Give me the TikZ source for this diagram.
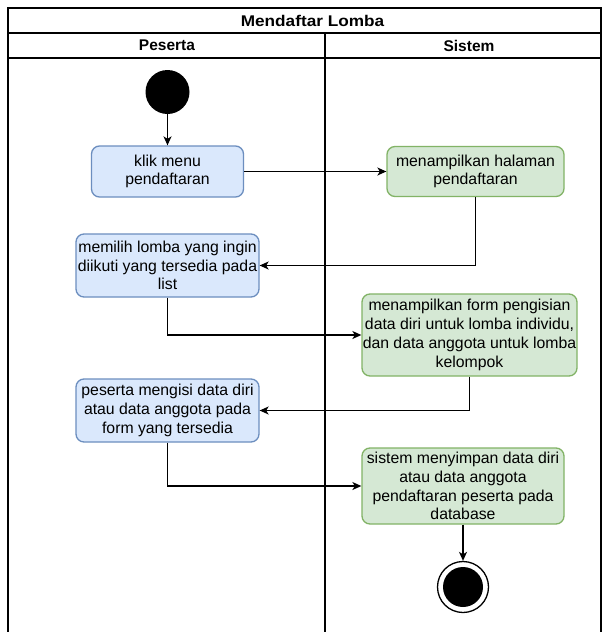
\documentclass[tikz,border=0pt]{standalone}
\usepackage{fontspec}
\setmainfont{Liberation Sans}
\newfontfamily\titlefont[FakeStretch=1.11]{Liberation Sans}
\usetikzlibrary{arrows.meta}
\definecolor{bluefill}{HTML}{DAE8FC}
\definecolor{blueline}{HTML}{6C8EBF}
\definecolor{greenfill}{HTML}{D5E8D4}
\definecolor{greenline}{HTML}{82B366}
\begin{document}
\begin{tikzpicture}[x=1pt,y=-1pt,
  every node/.style={font=\fontsize{15.8}{18.8}\selectfont},
  act/.style={rectangle, rounded corners=8pt, line width=1.3pt, align=center, inner sep=0pt},
  userbox/.style={act, fill=bluefill, draw=blueline},
  sysbox/.style={act, fill=greenfill, draw=greenline},
  flow/.style={line width=1.3pt, -{Stealth[length=9pt,width=8pt,inset=2.5pt]}},
  lane/.style={line width=1.3pt},
  header/.style={font=\fontsize{15.5}{18.6}\selectfont\bfseries}]
\useasboundingbox (0,0) rectangle (603,632);
\fill[white] (0,0) rectangle (603,632);

% swimlane frame
\draw[lane] (8,632) -- (8,8) -- (601,8) -- (601,632);
\draw[lane] (8,33) -- (601,33);
\draw[lane] (8,58) -- (601,58);
\draw[lane] (325,33) -- (325,632);
\node[font=\fontsize{15.5}{18.6}\titlefont\bfseries] (title) at (312.5,20.5) {Mendaftar Lomba};
\node[header] (lane1) at (167,45.5) {Peserta};
\node[header] (lane2) at (469,45.5) {Sistem};

% start and end
\node[circle, fill=black, minimum size=44pt, inner sep=0pt] (start) at (167.5,92) {};
\node[circle, draw=black, fill=white, line width=1.3pt, minimum size=51pt, inner sep=0pt] (end) at (463,587) {};
\node[circle, fill=black, minimum size=40pt, inner sep=0pt] (endin) at (463,587) {};

% actions
\node[userbox, minimum width=152pt, minimum height=51pt] (b1) at (167.5,171.5) {klik menu\\pendaftaran};
\node[sysbox, minimum width=177pt, minimum height=50pt] (s1) at (475.5,171.5) {menampilkan halaman\\pendaftaran};
\node[userbox, minimum width=183pt, minimum height=63pt] (b2) at (167.5,265.5) {memilih lomba yang ingin\\diikuti yang tersedia pada\\list};
\node[sysbox, minimum width=215pt, minimum height=82pt] (s2) at (469.5,335) {menampilkan form pengisian\\data diri untuk lomba individu,\\dan data anggota untuk lomba\\kelompok};
\node[userbox, minimum width=183pt, minimum height=63pt] (b3) at (167.5,410.5) {peserta mengisi data diri\\atau data anggota pada\\form yang tersedia};
\node[sysbox, minimum width=202pt, minimum height=76pt] (s3) at (463,486) {sistem menyimpan data diri\\atau data anggota\\pendaftaran peserta pada\\database};

% control flow
\draw[flow] (start) -- (b1);
\draw[flow] (b1) -- (s1);
\draw[flow] (s1.south) |- (b2.east);
\draw[flow] (b2.south) |- (s2.west);
\draw[flow] (s2.south) |- (b3.east);
\draw[flow] (b3.south) |- (s3.west);
\draw[flow] (s3) -- (end);
\end{tikzpicture}
\end{document}
